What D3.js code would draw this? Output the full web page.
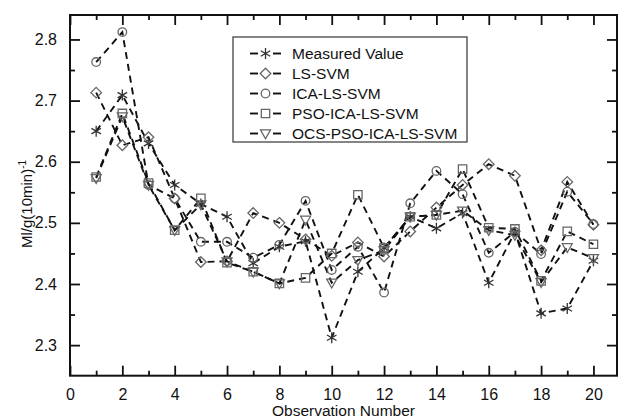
<!DOCTYPE html>
<html lang="en">
<head>
<meta charset="utf-8">
<title>Observation Number chart</title>
<script src="https://cdn.jsdelivr.net/npm/d3@7"></script>
<style>
    body { margin: 0; background: #fff; }
    text { font-family: Arial, "Liberation Sans", sans-serif; fill: #111; }
</style>
</head>
<body>
<script>
// data
var observations = [1, 2, 3, 4, 5, 6, 7, 8, 9, 10, 11, 12, 13, 14, 15, 16, 17, 18, 19, 20];
var measured = [2.650, 2.709, 2.630, 2.562, 2.531, 2.510, 2.434, 2.461, 2.470, 2.312, 2.420, 2.459, 2.510, 2.491, 2.516, 2.402, 2.485, 2.352, 2.360, 2.438];
var lsSvm    = [2.713, 2.627, 2.640, 2.540, 2.436, 2.437, 2.516, 2.500, 2.473, 2.446, 2.468, 2.445, 2.486, 2.525, 2.562, 2.596, 2.577, 2.455, 2.567, 2.497];
var icaLsSvm = [2.763, 2.812, 2.562, 2.540, 2.469, 2.469, 2.443, 2.464, 2.536, 2.423, 2.461, 2.386, 2.532, 2.585, 2.547, 2.451, 2.485, 2.449, 2.551, 2.498];
var psoIca   = [2.575, 2.679, 2.565, 2.488, 2.540, 2.435, 2.420, 2.401, 2.410, 2.450, 2.546, 2.459, 2.510, 2.513, 2.588, 2.492, 2.490, 2.405, 2.486, 2.465];
var ocsPso   = [2.573, 2.674, 2.562, 2.488, 2.530, 2.437, 2.420, 2.401, 2.505, 2.402, 2.439, 2.455, 2.510, 2.513, 2.520, 2.488, 2.480, 2.403, 2.460, 2.442];
var seriesNames = ["Measured Value", "LS-SVM", "ICA-LS-SVM", "PSO-ICA-LS-SVM", "OCS-PSO-ICA-LS-SVM"];
var seriesValues = [measured, lsSvm, icaLsSvm, psoIca, ocsPso];
var seriesMarks = ["asterisk", "diamond", "circle", "square", "triangleDown"];
var xMajor = [0, 2, 4, 6, 8, 10, 12, 14, 16, 18, 20];
var xMinor = [1, 3, 5, 7, 9, 11, 13, 15, 17, 19];
var yMajor = [2.3, 2.4, 2.5, 2.6, 2.7, 2.8];
var yMinor = [2.35, 2.45, 2.55, 2.65, 2.75];

var w = 620, h = 418;
var plotL = 70, plotR = 617, plotT = 15, plotB = 375.7;

var xScale = d3.scaleLinear().domain([0, 20.9]).range([plotL, plotR]);
var yScale = d3.scaleLinear().domain([2.25, 2.84]).range([plotB, plotT]);

var svg = d3.select("body").append("svg")
    .attr("width", w)
    .attr("height", h);

// marker shapes
function markPath(type) {
    if (type === "circle") return "M4.3,0A4.3,4.3 0 1,1 -4.3,0A4.3,4.3 0 1,1 4.3,0Z";
    if (type === "diamond") return "M0,-5.3L5.3,0L0,5.3L-5.3,0Z";
    if (type === "square") return "M-4.2,-4.2H4.2V4.2H-4.2Z";
    if (type === "triangleDown") return "M-5,-3.6H5L0,5.2Z";
    // six armed asterisk
    var p = "", r = 5.5;
    [90, 30, -30].forEach(function (a) {
        var dx = r * Math.cos(a * Math.PI / 180), dy = r * Math.sin(a * Math.PI / 180);
        p += "M" + (-dx).toFixed(2) + "," + (-dy).toFixed(2) + "L" + dx.toFixed(2) + "," + dy.toFixed(2);
    });
    return p;
}

// axes: ticks point inward on all four sides
function addAxis(axis, tx, ty, values, size, labels) {
    var g = svg.append("g")
        .attr("transform", "translate(" + tx + "," + ty + ")")
        .call(axis.tickValues(values).tickSize(-size).tickSizeOuter(0));
    g.select(".domain").remove();
    g.selectAll(".tick line").attr("stroke", "#111").attr("stroke-width", 1.8);
    if (!labels) g.selectAll(".tick text").remove();
    else g.selectAll(".tick text").attr("font-size", "16px").attr("fill", "#111")
        .attr("font-family", "Arial, 'Liberation Sans', sans-serif");
    return g;
}

addAxis(d3.axisBottom(xScale).tickPadding(13).tickFormat(d3.format("d")), 0, plotB, xMajor, 10, true);
addAxis(d3.axisBottom(xScale), 0, plotB, xMinor, 5, false);
addAxis(d3.axisTop(xScale), 0, plotT, xMajor, 10, false);
addAxis(d3.axisTop(xScale), 0, plotT, xMinor, 5, false);
addAxis(d3.axisLeft(yScale).tickPadding(13).tickFormat(d3.format(".1f")), plotL, 0, yMajor, 10, true);
addAxis(d3.axisLeft(yScale), plotL, 0, yMinor, 5, false);
addAxis(d3.axisRight(yScale), plotR, 0, yMajor, 10, false);
addAxis(d3.axisRight(yScale), plotR, 0, yMinor, 5, false);

// frame
svg.append("rect")
    .attr("x", plotL).attr("y", plotT)
    .attr("width", plotR - plotL).attr("height", plotB - plotT)
    .attr("fill", "none").attr("stroke", "#111").attr("stroke-width", 2);

// lines
var line = d3.line()
    .x(function (d, i) { return xScale(observations[i]); })
    .y(function (d) { return yScale(d); });

seriesValues.forEach(function (vals, s) {
    svg.append("path")
        .datum(vals)
        .attr("d", line)
        .attr("fill", "none")
        .attr("stroke", "#111")
        .attr("stroke-width", 1.9)
        .attr("stroke-dasharray", "7,5");
});

// markers
seriesValues.forEach(function (vals, s) {
    svg.append("g").selectAll("path")
        .data(vals)
        .enter()
        .append("path")
        .attr("transform", function (d, i) {
            return "translate(" + xScale(observations[i]) + "," + yScale(d) + ")";
        })
        .attr("d", markPath(seriesMarks[s]))
        .attr("fill", "none")
        .attr("stroke", seriesMarks[s] === "asterisk" ? "#333" : "#666")
        .attr("stroke-width", 1.3);
});

// legend
var legend = svg.append("g");
legend.append("rect")
    .attr("x", 233).attr("y", 37)
    .attr("width", 234).attr("height", 105)
    .attr("fill", "#fff").attr("stroke", "#444").attr("stroke-width", 1.3);

seriesNames.forEach(function (name, i) {
    var y = 53.5 + i * 20;
    legend.append("line").attr("x1", 250).attr("x2", 258).attr("y1", y).attr("y2", y)
        .attr("stroke", "#111").attr("stroke-width", 1.9);
    legend.append("line").attr("x1", 273).attr("x2", 281).attr("y1", y).attr("y2", y)
        .attr("stroke", "#111").attr("stroke-width", 1.9);
    legend.append("path")
        .attr("transform", "translate(265.5," + y + ")")
        .attr("d", markPath(seriesMarks[i]))
        .attr("fill", "none")
        .attr("stroke", seriesMarks[i] === "asterisk" ? "#333" : "#666")
        .attr("stroke-width", 1.3);
    legend.append("text")
        .attr("x", 292).attr("y", y)
        .attr("dy", "0.36em")
        .attr("font-size", "15.5px")
        .text(name);
});

// axis titles
svg.append("text")
    .attr("x", (plotL + plotR) / 2).attr("y", 416)
    .attr("text-anchor", "middle")
    .attr("font-size", "15.5px")
    .text("Observation Number");

var yTitle = svg.append("text")
    .attr("transform", "translate(32,204) rotate(-90)")
    .attr("text-anchor", "middle")
    .attr("font-size", "15px");
yTitle.append("tspan").text("Ml/g(10min)");
yTitle.append("tspan").attr("dy", "-6").attr("font-size", "10px").text("-1");

</script>
</body>
</html>
